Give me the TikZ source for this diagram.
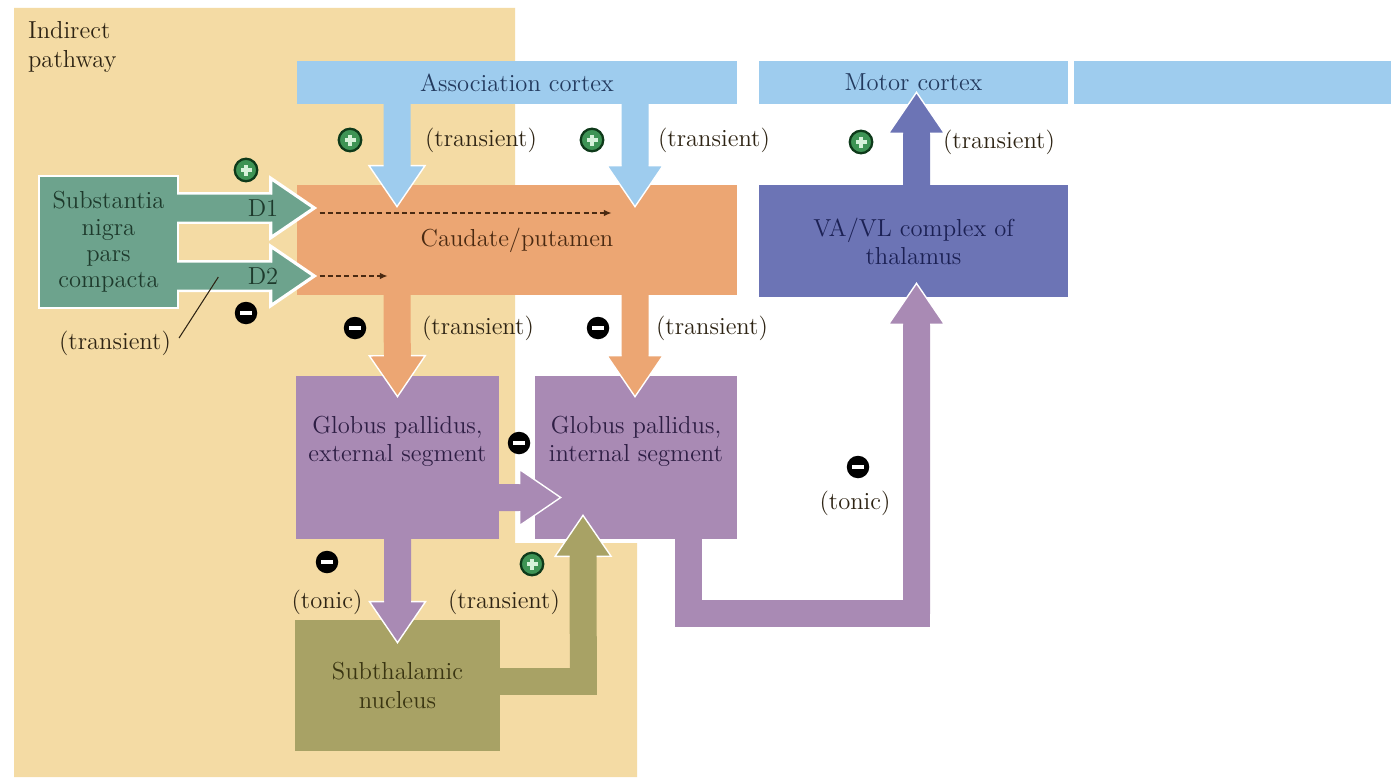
\documentclass[tikz,border=0pt]{standalone}
\usepackage{tikz}
\usetikzlibrary{calc,arrows.meta,positioning}

\definecolor{pathbeige}{HTML}{F4DBA4}
\definecolor{cortexblue}{HTML}{9ECCEE}
\definecolor{striatum}{HTML}{ECA673}
\definecolor{nigragreen}{HTML}{6DA38D}
\definecolor{pallidum}{HTML}{A98AB4}
\definecolor{subthal}{HTML}{A8A265}
\definecolor{thalamus}{HTML}{6C74B5}
\definecolor{cortexink}{HTML}{233A5E}
\definecolor{striatink}{HTML}{4A2A12}
\definecolor{nigraink}{HTML}{1E3A2C}
\definecolor{pallidink}{HTML}{2E1E44}
\definecolor{subthink}{HTML}{3A3512}
\definecolor{thalink}{HTML}{1C2154}
\definecolor{noteink}{HTML}{2E2414}
\definecolor{plusgreen}{HTML}{3E9455}
\definecolor{plusrim}{HTML}{0E3A1A}
\definecolor{plusbar}{HTML}{D6F2DA}

\pgfdeclarelayer{back}
\pgfdeclarelayer{glow}
\pgfdeclarelayer{front}
\pgfsetlayers{back,main,glow,front}

\newcommand\labelfont{\fontsize{14}{16}\selectfont}
\newcommand\shafthalf{0.27cm}
\newcommand\headhalf{0.56cm}
\newcommand\headlen{0.82cm}

% block arrow: #1 colour or style, #2 tail, #3 tip
\newcommand\blockarrow[3]{%
  \coordinate (ba-t) at #2;
  \coordinate (ba-h) at #3;
  \coordinate (ba-b) at ($(ba-h)!\headlen!(ba-t)$);
  \fill[#1] ($(ba-t)!\shafthalf!90:(ba-h)$) -- ($(ba-b)!\shafthalf!90:(ba-h)$)
    -- ($(ba-b)!\headhalf!90:(ba-h)$) -- (ba-h) -- ($(ba-b)!\headhalf!-90:(ba-h)$)
    -- ($(ba-b)!\shafthalf!-90:(ba-h)$) -- ($(ba-t)!\shafthalf!-90:(ba-h)$) -- cycle;
  \draw[white, line width=0.8pt] ($(ba-b)!\shafthalf!90:(ba-h)$) -- ($(ba-b)!\headhalf!90:(ba-h)$)
    -- (ba-h) -- ($(ba-b)!\headhalf!-90:(ba-h)$) -- ($(ba-b)!\shafthalf!-90:(ba-h)$);
}

\tikzset{
    region/.style={inner sep=0pt, align=center, font=\labelfont},
    note/.style={inner sep=1pt, font=\labelfont, text=noteink},
    excite/.style={
        circle, minimum size=0.45cm, inner sep=0pt,
        fill=plusgreen, draw=plusrim, line width=1.3pt,
        path picture={
            \fill[plusbar] ($(path picture bounding box.center)+(-5.5,-1.8)$) rectangle ($(path picture bounding box.center)+(5.5,1.8)$);
            \fill[plusbar] ($(path picture bounding box.center)+(-1.8,-5.5)$) rectangle ($(path picture bounding box.center)+(1.8,5.5)$);}
    },
    inhibit/.style={
        circle, minimum size=0.45cm, inner sep=0pt, fill=black,
        path picture={
            \fill[white] ($(path picture bounding box.center)+(-6,-2)$) rectangle ($(path picture bounding box.center)+(6,2)$);}
    },
    halo/.style={fill=white, draw=white, line width=0.1cm, line join=miter},
    dashflow/.style={draw=striatink, line width=1pt, dash pattern=on 0.1cm off 0.065cm, -{Latex[length=4.5pt,width=3.8pt]}}
}

\begin{document}
\begin{tikzpicture}[x=0.02cm, y=-0.02cm]
\useasboundingbox (0,0) rectangle (1391,777);
\begin{pgfonlayer}{back}
\fill[white] (0,0) rectangle (1391,777);
\fill[pathbeige] (14,8) -- (515,8) -- (515,543) -- (637,543) -- (637,777) -- (14,777) -- cycle;
\end{pgfonlayer}
\node[note, anchor=west, align=left] (pathway) at (26,47) {Indirect\\pathway};

% cortex, striatum, pallidum, thalamus
\node[region, fill=cortexblue, text=cortexink, minimum width=8.8cm, minimum height=0.86cm] (assoc) at (517,82.5) {Association cortex};
\node[region, fill=cortexblue, text=cortexink, minimum width=6.18cm, minimum height=0.86cm] (motor) at (913.5,82.5) {Motor cortex};
\node[region, fill=cortexblue, minimum width=6.34cm, minimum height=0.86cm] (cortexrest) at (1232.5,82.5) {};
\node[region, fill=striatum, text=striatink, minimum width=8.8cm, minimum height=2.2cm] (caud) at (517,240) {Caudate/putamen};
\node[region, fill=thalamus, text=thalink, minimum width=6.18cm, minimum height=2.24cm] (vavl) at (913.5,241) {VA/VL complex of\\thalamus};
\node[region, fill=pallidum, minimum width=4.06cm, minimum height=3.26cm,
    label={[region, text=pallidink, yshift=0.32cm]center:{Globus pallidus,\\external segment}}] (gpe) at (397.5,457.5) {};
\node[region, fill=pallidum, minimum width=4.04cm, minimum height=3.26cm,
    label={[region, text=pallidink, yshift=0.32cm]center:{Globus pallidus,\\internal segment}}] (gpi) at (636,457.5) {};
\node[region, fill=subthal, text=subthink, minimum width=4.1cm, minimum height=2.62cm] (stn) at (397.5,685.5) {Subthalamic\\nucleus};

% substantia nigra with D1/D2 projections
\begin{pgfonlayer}{front}
\node[region, fill=nigragreen, text=nigraink, font=\fontsize{14}{15}\selectfont,
    minimum width=2.74cm, minimum height=2.6cm, preaction={draw=white, line width=0.1cm}] (snpc) at (108.5,242) {Substantia\\nigra\\pars\\compacta};
\end{pgfonlayer}
\begin{pgfonlayer}{glow}
\blockarrow{halo}{($(snpc.east)+(-8,-34)$)}{($(caud.west)+(16,-32)$)}
\blockarrow{halo}{($(snpc.east)+(-8,34)$)}{($(caud.west)+(16,36)$)}
\end{pgfonlayer}
\begin{pgfonlayer}{front}
\blockarrow{nigragreen}{($(snpc.east)+(-8,-34)$)}{($(caud.west)+(16,-32)$)}
\blockarrow{nigragreen}{($(snpc.east)+(-8,34)$)}{($(caud.west)+(16,36)$)}
\node[note, text=nigraink] (d1) at (263,208) {D1};
\node[note, text=nigraink] (d2) at (263,276) {D2};
\node[note] (trsn) at (115,343) {(transient)};
\draw[noteink, line width=0.6pt] ($(trsn.east)+(6,-5)$) -- ($(snpc.east)+(41,35)$);
\end{pgfonlayer}

% projections
\blockarrow{cortexblue}{($(assoc.south)+(-120,-4)$)}{($(caud.north)+(-120,22)$)}
\blockarrow{cortexblue}{($(assoc.south)+(118,-4)$)}{($(caud.north)+(118,22)$)}
\blockarrow{striatum}{($(caud.south)+(-120,-3)$)}{($(gpe.north)+(0,21)$)}
\blockarrow{striatum}{($(caud.south)+(118,-3)$)}{($(gpi.north)+(-1,21)$)}
\blockarrow{pallidum}{($(gpe.east)+(-3,40)$)}{($(gpi.west)+(26,40)$)}
\blockarrow{pallidum}{($(gpe.south)+(0,-3)$)}{($(stn.north)+(0,23)$)}
\draw[subthal, line width=0.54cm, line cap=rect] ($(stn.east)+(-3,-4)$) -- ++(86,0) coordinate (stnbend);
\blockarrow{subthal}{(stnbend)}{($(gpi.south)+(-53,-24)$)}
\draw[pallidum, line width=0.54cm, line cap=rect, line join=miter] ($(gpi.south)+(52,-3)$) |- ($(vavl.south)+(3,316.5)$) coordinate (gpibend);
\blockarrow{pallidum}{(gpibend)}{($(vavl.south)+(3,-14)$)}
\blockarrow{thalamus}{($(vavl.north)+(3,3)$)}{($(motor.south)+(3,-12)$)}

\draw[dashflow] ($(caud.west)+(23,-27)$) -- ($(caud.west)+(315,-27)$);
\draw[dashflow] ($(caud.west)+(23,36)$) -- ($(caud.west)+(91,36)$);

% signs and timing labels
\foreach \x/\y/\name in {246/170/pld1,350/140/plac1,592/140/plac2,861/142/plmc,532/564/plst}
    \node[excite] (\name) at (\x,\y) {};
\foreach \x/\y/\name in {246/313/mid2,355/328/micp1,598/328/micp2,519/443/mige,327/562/migs,858/467/migi}
    \node[inhibit] (\name) at (\x,\y) {};
\foreach \x/\y/\name in {481/140/trac1,714/140/trac2,999/142/trmc,478/328/trcp1,712/328/trcp2,504/602/trst}
    \node[note] (\name) at (\x,\y) {(transient)};
\node[note] (tonge) at (327,602) {(tonic)};
\node[note] (tongi) at (855,503) {(tonic)};
\end{tikzpicture}
\end{document}
